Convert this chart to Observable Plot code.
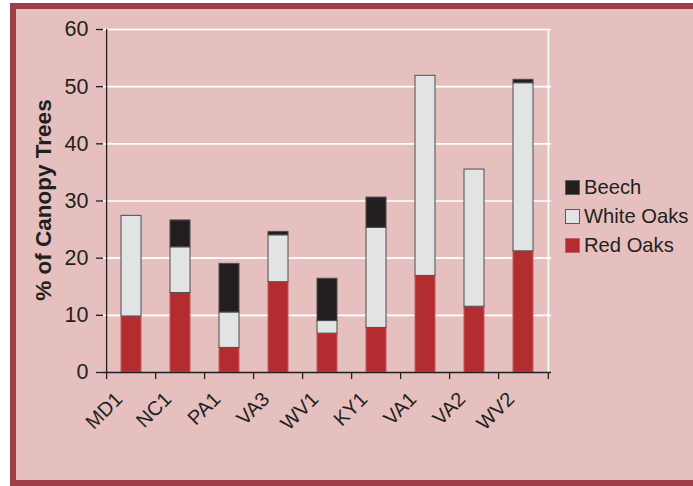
<!DOCTYPE html>
<html>
<head>
<meta charset="utf-8">
<script src="https://cdn.jsdelivr.net/npm/d3@7"></script>
<script src="https://cdn.jsdelivr.net/npm/@observablehq/plot@0.6"></script>
<style>
  html, body { margin: 0; padding: 0; background: #ffffff; }
  #wrap { position: relative; width: 693px; height: 486px; overflow: hidden; font-family: "Liberation Sans", Arial, Helvetica, sans-serif; }
  #panel { position: absolute; left: 10px; top: 3px; width: 720px; height: 483px; box-sizing: border-box; border: 6px solid #9e3e47; background: #e6bfbf; }
  #chart { position: absolute; left: 0; top: 0; }
  .leg { position: absolute; left: 565px; font-size: 20.2px; color: #231f20; white-space: nowrap; line-height: 22px; }
  .leg span.sw { display: inline-block; width: 15px; height: 15px; box-sizing: border-box; vertical-align: -1px; margin-right: 4px; }
</style>
</head>
<body>
<div id="wrap">
  <div id="panel"></div>
  <div id="chart"></div>
  <div id="legend"></div>
</div>
<script>
const sites = ["MD1", "NC1", "PA1", "VA3", "WV1", "KY1", "VA1", "VA2", "WV2"];
const redOaks   = [9.8, 13.9, 4.3, 15.8, 6.8, 7.8, 16.9, 11.5, 21.2];
const whiteOaks = [17.6, 8.0, 6.2, 8.2, 2.2, 17.5, 35.0, 24.0, 29.4];
const beech     = [0, 4.7, 8.5, 0.6, 7.4, 5.3, 0, 0, 0.6];
const species = ["Red Oaks", "White Oaks", "Beech"];
const yTicks = [0, 10, 20, 30, 40, 50, 60];
const yLabel = "% of Canopy Trees";

const fills   = {"Red Oaks": "#b32c30", "White Oaks": "#e2e3e5", "Beech": "#231f20"};
const strokes = {"Red Oaks": "#c65a5c", "White Oaks": "#4d4d4f", "Beech": "#4d4d4f"};

// stacked table built from the arrays
const series = {"Red Oaks": redOaks, "White Oaks": whiteOaks, "Beech": beech};
const rows = [];
sites.forEach((s, i) => {
  let base = 0;
  for (const sp of species) {
    const v = series[sp][i];
    rows.push({site: s, species: sp, y1: base, y2: base + v});
    base += v;
  }
});

const W = 693, H = 486;
const mL = 103, mR = 142, mT = 29, mB = 114;
const step = (W - mL - mR) / sites.length;
const font = "Liberation Sans, Arial, Helvetica, sans-serif";
const ink = "#231f20";

const barMarks = species.map(sp => Plot.barY(rows.filter(r => r.species === sp && r.y2 > r.y1), {
  x: "site", y1: "y1", y2: "y2", fill: fills[sp], stroke: strokes[sp], strokeWidth: 1
}));

const plot = Plot.plot({
  width: W, height: H,
  marginLeft: mL, marginRight: mR, marginTop: mT, marginBottom: mB,
  style: {background: "transparent", fontFamily: font, color: ink},
  x: {domain: sites, paddingInner: 0.6, paddingOuter: 0.3, axis: null},
  y: {domain: [0, 60], axis: null},
  marks: [
    Plot.gridY(yTicks.filter(t => t > 0), {stroke: "white", strokeOpacity: 1, strokeWidth: 1.6}),
    Plot.ruleX([sites[sites.length - 1]], {y1: 0, y2: 60, dx: step / 2, stroke: "white", strokeWidth: 1.6}),
    ...barMarks,
    Plot.ruleY([0], {stroke: ink, strokeWidth: 1.3}),
    Plot.ruleX([sites[0]], {y1: 0, y2: 60, dx: -step / 2, stroke: ink, strokeWidth: 1.3}),
    Plot.ruleX(sites, {x: d => d, y1: 0, y2: 0, insetBottom: -7, dx: -step / 2, stroke: ink, strokeWidth: 1.3}),
    Plot.ruleX([sites[sites.length - 1]], {y1: 0, y2: 0, insetBottom: -7, dx: step / 2, stroke: ink, strokeWidth: 1.3}),
    Plot.axisY({ticks: yTicks, tickSize: 7, tickPadding: 8, fontSize: 21.5, label: null, stroke: ink, fill: ink, strokeWidth: 1.3}),
    Plot.text(sites, {x: d => d, frameAnchor: "bottom", text: d => d, rotate: -45, textAnchor: "end", lineAnchor: "bottom", dx: -8, dy: 28, fontSize: 20, fill: ink}),
    Plot.text([yLabel], {text: d => d, frameAnchor: "left", textAnchor: "middle", rotate: -90, dx: -60, dy: -1, fontSize: 22.5, fontWeight: "bold", fill: ink})
  ]
});
document.getElementById("chart").appendChild(plot);

// legend (top to bottom: Beech, White Oaks, Red Oaks)
const legTop = {"Beech": 176, "White Oaks": 205, "Red Oaks": 234};
const legend = document.getElementById("legend");
species.slice().reverse().forEach(sp => {
  const d = document.createElement("div");
  d.className = "leg";
  d.style.top = legTop[sp] + "px";
  const sw = document.createElement("span");
  sw.className = "sw";
  sw.style.background = fills[sp];
  sw.style.border = "1px solid " + (sp === "Red Oaks" ? strokes[sp] : "#5a5a5c");
  d.appendChild(sw);
  d.appendChild(document.createTextNode(sp));
  legend.appendChild(d);
});
</script>
</body>
</html>
